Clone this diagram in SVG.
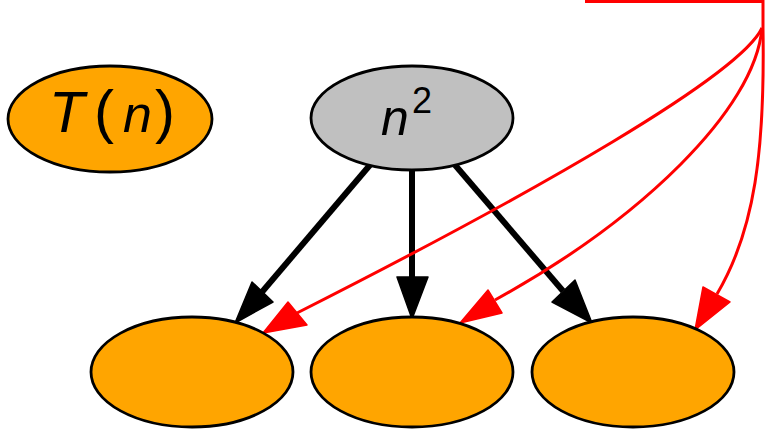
<svg xmlns="http://www.w3.org/2000/svg" width="765" height="431" viewBox="0 0 765 431">
<style>
.node ellipse{stroke:#000;stroke-width:2.8}
.orange{fill:#ffa500}
.grey{fill:#c0c0c0}
.blk{stroke:#000;stroke-width:6;fill:none}
.blkhead{fill:#000;stroke:#000;stroke-width:1.5;stroke-linejoin:round}
.red{stroke:#f00;stroke-width:3;fill:none}
.redhead{fill:#f00;stroke:#f00;stroke-width:1.5;stroke-linejoin:round}
text{font-family:"Liberation Sans",Arial,sans-serif;fill:#000}
.it{font-style:italic}
</style>
<rect width="765" height="431" fill="#fff"/>
<g id="connectors">
  <path class="red" d="M585,1.5 H763 V28"/>
  <line class="blk" x1="370" y1="165" x2="262" y2="292"/>
  <line class="blk" x1="412" y1="170" x2="412" y2="277"/>
  <line class="blk" x1="455" y1="165" x2="563" y2="291"/>
  <polygon class="blkhead" points="235,323 252,282 273,302"/>
  <polygon class="blkhead" points="412,319 397,277 428,277"/>
  <polygon class="blkhead" points="592,323 552,302 575,280"/>
  <path class="red" d="M762,28 C740,75 540,190 297,313"/>
  <path class="red" d="M762,28 C755,110 640,220 495,300"/>
  <path class="red" d="M763,28 C765,150 755,230 717,294"/>
  <polygon class="redhead" points="263,333 288,302 307,325"/>
  <polygon class="redhead" points="460,323 488,290 502,313"/>
  <polygon class="redhead" points="695,330 703,287 730,302"/>
</g>
<g id="Tn" class="node">
  <ellipse class="orange" cx="110" cy="119" rx="102" ry="53"/>
  <text y="132"><tspan class="it" x="49" font-size="58">T</tspan><tspan x="94" font-size="60">(</tspan><tspan class="it" x="123" font-size="52">n</tspan><tspan x="155" font-size="60">)</tspan></text>
</g>
<g id="n2" class="node">
  <ellipse class="grey" cx="412" cy="118" rx="101" ry="52"/>
  <text><tspan class="it" x="381" y="135" font-size="50">n</tspan><tspan x="412" y="113" font-size="36">2</tspan></text>
</g>
<g id="c1" class="node">
  <ellipse class="orange" cx="192" cy="372" rx="101" ry="55"/>
</g>
<g id="c2" class="node">
  <ellipse class="orange" cx="412" cy="372" rx="101" ry="55"/>
</g>
<g id="c3" class="node">
  <ellipse class="orange" cx="633" cy="372" rx="101" ry="55"/>
</g>
</svg>
